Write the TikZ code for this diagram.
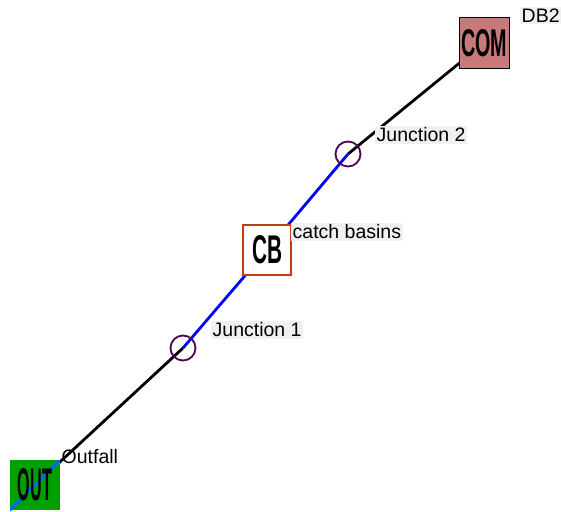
\documentclass[tikz,border=0pt]{standalone}
\usepackage{fontspec}
\setmainfont{Liberation Sans}
\usetikzlibrary{backgrounds}
\definecolor{comfill}{RGB}{200,122,122}
\definecolor{cbedge}{RGB}{190,64,20}
\definecolor{outfill}{RGB}{0,160,0}
\definecolor{outblue}{RGB}{0,100,255}
\definecolor{juncedge}{RGB}{80,0,80}
\definecolor{labelgray}{RGB}{240,240,240}
\definecolor{linkblue}{RGB}{0,0,255}
\newcommand{\symtext}[3]{\resizebox{#1}{#2}{\bfseries #3}}
\begin{document}
\begin{tikzpicture}[x=1pt,y=-1pt,
  symbox/.style={draw, minimum width=50pt, minimum height=50pt, inner sep=0pt, line width=1pt},
  junc/.style={circle, draw=juncedge, line width=1.8pt, minimum size=25pt, inner sep=0pt},
  lab/.style={anchor=north west, fill=labelgray, inner sep=1.5pt, font=\fontsize{19.5}{20}\selectfont},
  link/.style={line width=2.8pt},
]
\useasboundingbox (0,0) rectangle (561,511);

% nodes
\node[symbox, fill=comfill] (com) at (484,43) {\symtext{46pt}{27pt}{COM}};
\node[symbox, fill=white, draw=cbedge, line width=2pt, minimum width=48pt] (cb) at (267,250) {\symtext{30pt}{28pt}{CB}};
\node[symbox, fill=outfill, draw=none,
  path picture={\draw[outblue, line width=3pt] (path picture bounding box.south west) -- (path picture bounding box.north east);}]
  (out) at (35,485) {\symtext{34pt}{32pt}{OUT}};
\node[junc] (j2) at (348,154) {};
\node[junc] (j1) at (183,348) {};

% labels
\node[lab] (lcom) at (520,7) {DB2};
\node[lab] (lj2) at (375,126) {Junction 2};
\node[lab] (lcb) at (291,223) {catch basins};
\node[lab] (lj1) at (211,321) {Junction 1};
\node[lab, fill=none] (lout) at (60,448) {Outfall};

% links
\begin{scope}[on background layer]
  \draw[link, black] (com.center) -- (j2.center);
  \draw[link, linkblue] (j2.center) -- (cb.center);
  \draw[link, linkblue] (cb.center) -- (j1.center);
  \draw[link, black] (j1.center) -- (out.center);
\end{scope}
\end{tikzpicture}
\end{document}
